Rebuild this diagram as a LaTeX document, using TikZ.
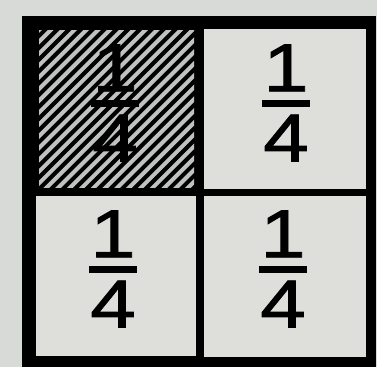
\documentclass[tikz,border=0pt]{standalone}
\usepackage{fontspec}
\setmainfont{Liberation Sans}[FakeStretch=1.2,FakeBold=1.3]
\definecolor{paper}{RGB}{216,218,216}
\definecolor{cellgray}{RGB}{222,223,219}
\definecolor{stripe}{RGB}{192,194,194}
\newcommand\quarterfrac[3]{%
  \node[fracbar] (#1b) at (#2,#3) {};
  \node[digit, anchor=south] (#1n) at (#2,#3-11.5) {1};
  \node[digit, anchor=north] (#1d) at (#2,#3+11.5) {4};
}
\begin{document}
\begin{tikzpicture}[x=1pt,y=-1pt,
  digit/.style={font=\fontsize{68}{68}\selectfont, inner sep=0pt, text=black},
  fracbar/.style={fill=black, inner sep=0pt, minimum width=48pt, minimum height=7pt}]
\fill[paper] (0,0) rectangle (377,367);
\useasboundingbox (0,0) rectangle (377,367);
\fill[black] (22,16) rectangle (376,367);
\fill[cellgray] (204,29) rectangle (366,189);
\fill[cellgray] (36,196) rectangle (196,356);
\fill[cellgray] (204,196) rectangle (366,357);
\begin{scope}
  \clip (39,30) rectangle (194,187);
  \foreach \i in {0,...,28}
    \draw[stripe, line width=4pt] (-121+\i*11.8,190) -- ++(170,-170);
\end{scope}
\quarterfrac{tl}{115}{103}
\quarterfrac{tr}{286}{103}
\quarterfrac{bl}{113}{269}
\quarterfrac{br}{283}{269}
\end{tikzpicture}
\end{document}
